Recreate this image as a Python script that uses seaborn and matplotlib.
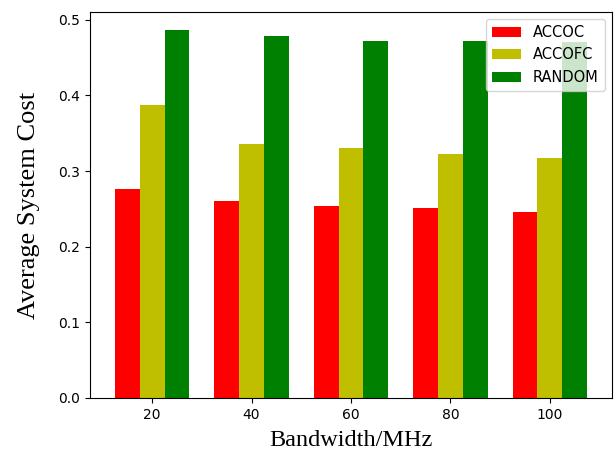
import pandas as pd
import numpy as np
import matplotlib
matplotlib.use("Agg")
import matplotlib.pyplot as plt
import seaborn as sns

# Data
bandwidth = ["20", "40", "60", "80", "100"]
accoc = [0.276, 0.260, 0.254, 0.251, 0.246]
accofc = [0.387, 0.336, 0.330, 0.322, 0.317]
random_cost = [0.486, 0.478, 0.472, 0.472, 0.471]
methods = ["ACCOC", "ACCOFC", "RANDOM"]
colors = ["r", "y", "g"]

# Long-form table for seaborn
df = pd.DataFrame({
    "Bandwidth": bandwidth * 3,
    "Method": np.repeat(methods, len(bandwidth)),
    "Cost": accoc + accofc + random_cost,
})

fig, ax = plt.subplots(figsize=(6.16, 4.55), dpi=100)
sns.barplot(data=df, x="Bandwidth", y="Cost", hue="Method", hue_order=methods,
            palette=colors, saturation=1, width=0.75, errorbar=None, ax=ax)

ax.set_xlim(-0.625, 4.625)
ax.set_ylim(0, 0.5103)
ax.set_yticks([0.0, 0.1, 0.2, 0.3, 0.4, 0.5])
ax.set_xlabel("Bandwidth/MHz", fontsize=17.5, family="Liberation Serif", labelpad=6)
ax.set_ylabel("Average System Cost", fontsize=19, family="Liberation Serif", labelpad=13)
ax.legend(loc="upper right", fontsize=10.5)

fig.subplots_adjust(left=0.146, right=0.9935, top=0.9736, bottom=0.1253)
fig.savefig("out.png", dpi=100)
